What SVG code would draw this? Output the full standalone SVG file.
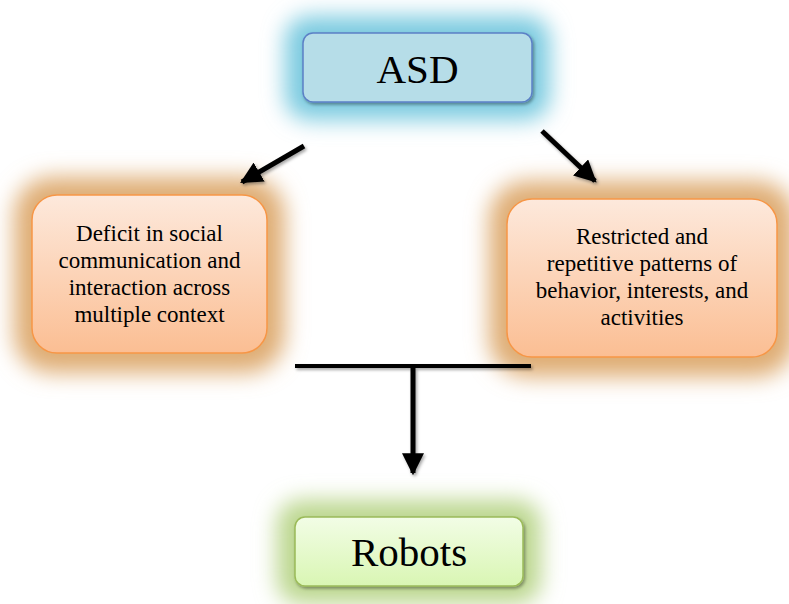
<svg xmlns="http://www.w3.org/2000/svg" width="789" height="604" viewBox="0 0 789 604">
<defs>
<filter id="glow" x="-50%" y="-80%" width="200%" height="260%"><feGaussianBlur stdDeviation="11"/></filter>
<filter id="sh" x="-20%" y="-20%" width="140%" height="140%"><feDropShadow dx="1.5" dy="2" stdDeviation="1.5" flood-color="#000" flood-opacity="0.35"/></filter>
<linearGradient id="gOr" x1="0" y1="0" x2="0" y2="1"><stop offset="0" stop-color="#fde9dc"/><stop offset="1" stop-color="#fbbe93"/></linearGradient>
<linearGradient id="gGr" x1="0" y1="0" x2="0" y2="1"><stop offset="0" stop-color="#f2fde6"/><stop offset="1" stop-color="#d9f6b3"/></linearGradient>
<marker id="ah" viewBox="0 0 10 10" refX="9" refY="5" markerWidth="4.4" markerHeight="4.4" orient="auto" markerUnits="strokeWidth"><path d="M0,0 L10,5 L0,10 z" fill="#000"/></marker>
</defs>
<style>
.t{font-family:"Liberation Serif","Times New Roman",serif;text-anchor:middle;fill:#000}
.big{font-size:41px}
.sm{font-size:23px}
.ln{stroke:#000;stroke-width:5;fill:none}
</style>
<rect width="789" height="604" fill="#fff"/>
<g id="asd">
<rect x="285" y="16" width="265" height="104" rx="24" fill="#7ccbe0" filter="url(#glow)"/>
<rect x="303" y="33" width="229" height="69" rx="10" fill="#b6dde8" stroke="#5b80c6" stroke-width="1.5" filter="url(#sh)"/>
<text class="t big" x="417.500" y="83">ASD</text>
</g>
<g id="deficit">
<rect x="14" y="177" width="271" height="196" rx="38" fill="#dfad74" filter="url(#glow)"/>
<rect x="32" y="195" width="235" height="158" rx="25" fill="url(#gOr)" stroke="#f79646" stroke-width="1.5"/>
<text class="t sm" x="149.500" y="241">Deficit in social</text>
<text class="t sm" x="149.500" y="268">communication and</text>
<text class="t sm" x="149.500" y="295">interaction across</text>
<text class="t sm" x="149.500" y="322">multiple context</text>
</g>
<g id="restricted">
<rect x="489" y="181" width="306" height="196" rx="38" fill="#dfad74" filter="url(#glow)"/>
<rect x="507" y="199" width="270" height="158" rx="25" fill="url(#gOr)" stroke="#f79646" stroke-width="1.5"/>
<text class="t sm" x="642" y="244">Restricted and</text>
<text class="t sm" x="642" y="271">repetitive patterns of</text>
<text class="t sm" x="642" y="298">behavior, interests, and</text>
<text class="t sm" x="642" y="325">activities</text>
</g>
<g id="robots">
<rect x="277" y="500" width="264" height="104" rx="24" fill="#bcd78f" filter="url(#glow)"/>
<rect x="295" y="517" width="228" height="69" rx="10" fill="url(#gGr)" stroke="#9bbb59" stroke-width="1.5" filter="url(#sh)"/>
<text class="t big" x="409" y="566">Robots</text>
</g>
<g id="connectors" filter="url(#sh)">
<line class="ln" x1="304" y1="146" x2="242" y2="182" marker-end="url(#ah)"/>
<line class="ln" x1="542" y1="131" x2="595" y2="181" marker-end="url(#ah)"/>
<line x1="295" y1="366" x2="531" y2="366" stroke="#000" stroke-width="4"/>
<line class="ln" x1="413" y1="366" x2="413" y2="473" marker-end="url(#ah)"/>
</g>
</svg>
